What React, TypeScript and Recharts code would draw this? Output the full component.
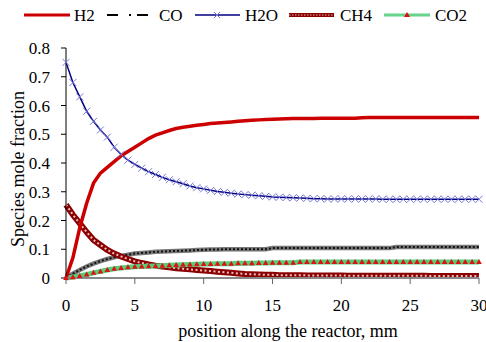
import React from 'react';
import { LineChart, Line, XAxis, YAxis } from 'recharts';

// position along the reactor (mm)
const positions = [
  0, 0.5, 1, 1.5, 2, 2.5, 3, 3.5, 4, 4.5,
  5, 5.5, 6, 6.5, 7, 7.5, 8, 8.5, 9, 9.5,
  10, 10.5, 11, 11.5, 12, 12.5, 13, 13.5, 14, 14.5,
  15, 15.5, 16, 16.5, 17, 17.5, 18, 18.5, 19, 19.5,
  20, 20.5, 21, 21.5, 22, 22.5, 23, 23.5, 24, 24.5,
  25, 25.5, 26, 26.5, 27, 27.5, 28, 28.5, 29, 29.5,
  30,
];

const h2 = [
  0, 0.07, 0.175, 0.26, 0.33, 0.365, 0.385, 0.405, 0.425, 0.44,
  0.455, 0.47, 0.485, 0.497, 0.505, 0.513, 0.52, 0.524, 0.528, 0.531,
  0.534, 0.537, 0.539, 0.541, 0.543, 0.545, 0.547, 0.549, 0.55, 0.551,
  0.552, 0.553, 0.554, 0.555, 0.555, 0.555, 0.555, 0.556, 0.556, 0.556,
  0.556, 0.556, 0.556, 0.557, 0.558, 0.558, 0.558, 0.558, 0.558, 0.558,
  0.558, 0.558, 0.558, 0.558, 0.558, 0.558, 0.558, 0.558, 0.558, 0.558,
  0.558,
];

const co = [
  0, 0.015, 0.028, 0.04, 0.05, 0.059, 0.066, 0.072, 0.077, 0.081,
  0.085, 0.087, 0.089, 0.091, 0.092, 0.093, 0.094, 0.095, 0.096, 0.097,
  0.098, 0.099, 0.099, 0.1, 0.1, 0.1, 0.1, 0.1, 0.1, 0.1,
  0.104, 0.104, 0.104, 0.104, 0.104, 0.104, 0.104, 0.104, 0.104, 0.104,
  0.104, 0.104, 0.104, 0.104, 0.104, 0.104, 0.104, 0.104, 0.108, 0.108,
  0.108, 0.108, 0.108, 0.108, 0.108, 0.108, 0.108, 0.108, 0.108, 0.108,
  0.108,
];

const h2o = [
  0.75, 0.68, 0.63, 0.58, 0.545, 0.515, 0.49, 0.455, 0.43, 0.41,
  0.395, 0.382, 0.37, 0.36, 0.35, 0.342, 0.335, 0.328, 0.32, 0.314,
  0.31, 0.305, 0.301, 0.298, 0.295, 0.292, 0.29, 0.288, 0.286, 0.284,
  0.282, 0.281, 0.28, 0.279, 0.278, 0.277, 0.276, 0.276, 0.275, 0.275,
  0.275, 0.275, 0.275, 0.275, 0.275, 0.275, 0.274, 0.274, 0.274, 0.274,
  0.274, 0.274, 0.274, 0.274, 0.274, 0.274, 0.274, 0.274, 0.274, 0.274,
  0.274,
];

const ch4 = [
  0.255, 0.22, 0.19, 0.16, 0.132, 0.115, 0.098, 0.085, 0.075, 0.066,
  0.058, 0.052, 0.047, 0.043, 0.04, 0.037, 0.034, 0.032, 0.03, 0.028,
  0.026, 0.024, 0.022, 0.02, 0.018, 0.016, 0.014, 0.013, 0.012, 0.011,
  0.011, 0.01, 0.01, 0.01, 0.01, 0.009, 0.009, 0.009, 0.009, 0.009,
  0.009, 0.008, 0.008, 0.008, 0.008, 0.008, 0.008, 0.008, 0.008, 0.008,
  0.008, 0.008, 0.008, 0.007, 0.007, 0.007, 0.007, 0.007, 0.007, 0.007,
  0.007,
];

const co2 = [
  0, 0.003, 0.007, 0.012, 0.018, 0.023, 0.028, 0.032, 0.035, 0.037,
  0.039, 0.04, 0.041, 0.042, 0.043, 0.044, 0.045, 0.046, 0.047, 0.048,
  0.049, 0.049, 0.05, 0.05, 0.05, 0.051, 0.051, 0.051, 0.052, 0.052,
  0.053, 0.053, 0.053, 0.053, 0.056, 0.056, 0.056, 0.056, 0.056, 0.056,
  0.056, 0.056, 0.056, 0.056, 0.056, 0.056, 0.056, 0.056, 0.056, 0.056,
  0.056, 0.056, 0.056, 0.056, 0.056, 0.056, 0.056, 0.056, 0.056, 0.056,
  0.056,
];

const xTicks = [0, 5, 10, 15, 20, 25, 30];
const yTicks = [0, 0.1, 0.2, 0.3, 0.4, 0.5, 0.6, 0.7, 0.8];

const data = positions.map((x, i) => ({
  x,
  h2: h2[i],
  co: co[i],
  h2o: h2o[i],
  ch4: ch4[i],
  co2: co2[i],
}));

const FONT = 'Liberation Serif';

const crossDot = (props: any) => {
  const { cx, cy, index } = props;
  if (cx == null || cy == null) return <g key={`x${index}`} />;
  const s = 3.5;
  return (
    <path
      key={`x${index}`}
      d={`M${cx - s},${cy - s}L${cx + s},${cy + s}M${cx - s},${cy + s}L${cx + s},${cy - s}`}
      stroke="#7878d8"
      strokeWidth={1}
      fill="none"
    />
  );
};

const triDot = (props: any) => {
  const { cx, cy, index } = props;
  if (cx == null || cy == null) return <g key={`t${index}`} />;
  return (
    <path
      key={`t${index}`}
      d={`M${cx},${cy - 3}L${cx + 2.8},${cy + 2}L${cx - 2.8},${cy + 2}Z`}
      fill="#e01010"
    />
  );
};

const Legend = () => (
  <svg width={486} height={32} style={{ position: 'absolute', left: 0, top: 0 }}>
    <g style={{ fontFamily: FONT, fontSize: 17 }} fill="#000">
      <line x1={24} x2={70} y1={15} y2={15} stroke="#cc0000" strokeWidth={3} />
      <text x={74} y={21}>H2</text>

      <line x1={107} x2={118} y1={15} y2={15} stroke="#000" strokeWidth={2} />
      <line x1={129} x2={131} y1={15} y2={15} stroke="#000" strokeWidth={2} />
      <line x1={137} x2={148} y1={15} y2={15} stroke="#000" strokeWidth={2} />
      <text x={159} y={21}>CO</text>

      <line x1={195} x2={240} y1={15} y2={15} stroke="#000080" strokeWidth={1.5} />
      <path d="M214,12L220,18M214,18L220,12" stroke="#7878d8" strokeWidth={1} />
      <text x={245} y={21}>H2O</text>

      <line x1={289} x2={334} y1={15} y2={15} stroke="#8b0000" strokeWidth={4} />
      <line x1={289} x2={334} y1={15} y2={15} stroke="#e9b8b8" strokeWidth={1.2} strokeDasharray="1.5 1.5" />
      <text x={340} y={21}>CH4</text>

      <line x1={384} x2={430} y1={15} y2={15} stroke="#66d48a" strokeWidth={3} />
      <path d="M407,12L410,17L404,17Z" fill="#e01010" />
      <text x={435} y={21}>CO2</text>
    </g>
  </svg>
);

const AxisTitles = () => (
  <svg width={486} height={342} style={{ position: 'absolute', left: 0, top: 0, pointerEvents: 'none' }}>
    <g style={{ fontFamily: FONT, fontSize: 18 }} fill="#000">
      <text x={18} y={169} textAnchor="middle" dominantBaseline="central" transform="rotate(-90 18 169)">
        Species mole fraction
      </text>
      <text x={288} y={331} textAnchor="middle" dominantBaseline="central">
        position along the reactor, mm
      </text>
    </g>
  </svg>
);

export default function App() {
  const tickStyle = { fontSize: 17, fill: '#000', style: { fontFamily: FONT } };
  return (
    <div
      style={{
        position: 'fixed',
        left: 0,
        top: 0,
        width: 486,
        height: 342,
        background: '#fff',
        fontFamily: FONT,
      }}
    >
      <LineChart
        width={486}
        height={342}
        data={data}
        margin={{ top: 48, right: 7, bottom: 0, left: 0 }}
        style={{ fontFamily: FONT }}
      >
        <XAxis
          dataKey="x"
          type="number"
          domain={[0, 30]}
          ticks={xTicks}
          height={64}
          stroke="#888"
          axisLine={{ stroke: '#888', strokeWidth: 2 }}
          tickLine={{ stroke: '#666' }}
          tickSize={6}
          tickMargin={15}
          tick={tickStyle}
          interval={0}
        />
        <YAxis
          type="number"
          domain={[0, 0.8]}
          ticks={yTicks}
          width={66}
          axisLine={{ stroke: '#000' }}
          tickLine={{ stroke: '#000' }}
          tickSize={5}
          tickMargin={11}
          tick={tickStyle}
          interval={0}
        />
        {/* CO: grey band with dark dashes */}
        <Line dataKey="co" stroke="#777" strokeWidth={4.5} dot={false} isAnimationActive={false} />
        <Line dataKey="co" stroke="#111" strokeWidth={2} strokeDasharray="2 2" dot={false} isAnimationActive={false} />
        {/* H2O: navy line with crosses */}
        <Line dataKey="h2o" stroke="#000080" strokeWidth={1.5} dot={crossDot} isAnimationActive={false} />
        {/* CH4: thick dark red with light beads */}
        <Line dataKey="ch4" stroke="#8b0000" strokeWidth={6} dot={false} isAnimationActive={false} />
        <Line dataKey="ch4" stroke="#ecc0c0" strokeWidth={2} strokeDasharray="2 2.5" dot={false} isAnimationActive={false} />
        {/* CO2: green band with red triangles */}
        <Line dataKey="co2" stroke="#55cc7a" strokeWidth={5} dot={triDot} isAnimationActive={false} />
        {/* H2 */}
        <Line dataKey="h2" stroke="#cc0000" strokeWidth={3.5} dot={false} isAnimationActive={false} />
      </LineChart>
      <Legend />
      <AxisTitles />
    </div>
  );
}
